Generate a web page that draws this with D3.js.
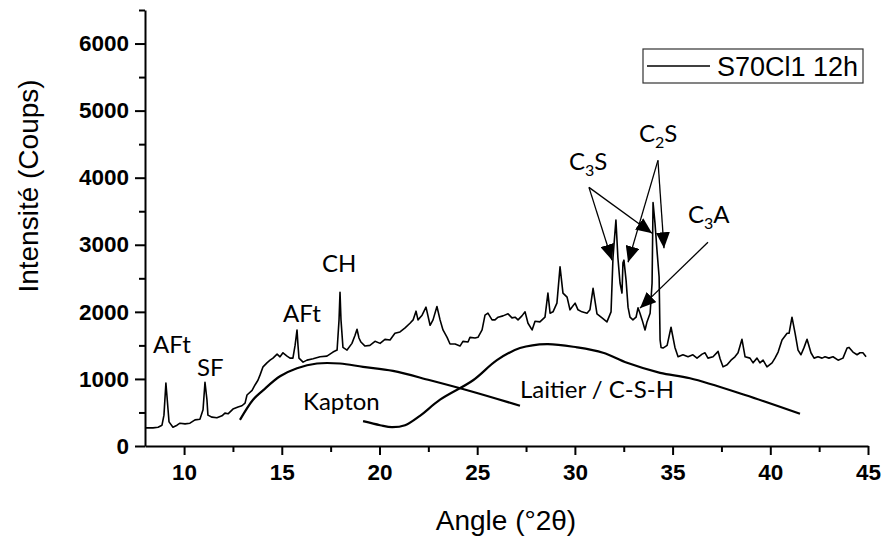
<!DOCTYPE html>
<html><head><meta charset="utf-8">
<script src="https://cdn.jsdelivr.net/npm/d3@7/dist/d3.min.js"></script>
<style>
html,body{margin:0;padding:0;background:#fff;}
svg{display:block;}
</style></head>
<body>
<svg id="chart" width="882" height="537"></svg>
<script>
// ---- data ----
const angle = [8.05,8.41,8.67,8.87,8.97,9.07,9.18,9.23,9.43,9.64,9.79,10.05,10.30,10.56,10.81,10.97,11.07,11.17,11.22,11.43,11.68,11.94,12.09,12.25,12.50,12.76,12.96,13.12,13.22,13.48,13.63,13.78,13.89,14.04,14.24,14.40,14.55,14.76,14.91,15.06,15.27,15.42,15.57,15.68,15.78,15.83,15.88,16.09,16.29,16.60,16.96,17.31,17.62,17.83,17.93,17.98,18.03,18.13,18.34,18.59,18.75,18.85,18.95,19.05,19.26,19.51,19.77,20.03,20.28,20.54,20.79,21.05,21.31,21.56,21.72,21.87,21.97,22.18,22.38,22.59,22.74,22.94,23.10,23.25,23.46,23.61,23.87,24.12,24.27,24.53,24.63,24.89,25.04,25.25,25.40,25.55,25.76,25.91,26.07,26.32,26.58,26.78,26.94,27.09,27.29,27.45,27.60,27.81,27.96,28.21,28.47,28.62,28.73,28.88,29.08,29.24,29.39,29.60,29.75,30.01,30.16,30.36,30.62,30.77,30.93,31.13,31.39,31.64,31.85,31.95,32.10,32.20,32.31,32.41,32.46,32.51,32.62,32.72,32.82,32.97,33.13,33.23,33.33,33.44,33.59,33.69,33.85,33.95,34.00,34.10,34.20,34.31,34.36,34.41,34.51,34.72,34.92,35.12,35.28,35.53,35.79,36.04,36.25,36.51,36.66,36.81,37.07,37.33,37.43,37.58,37.79,37.99,38.19,38.35,38.55,38.71,38.96,39.12,39.32,39.47,39.63,39.83,40.09,40.24,40.40,40.60,40.86,40.96,41.11,41.27,41.42,41.57,41.73,41.88,42.08,42.24,42.44,42.65,42.80,43.00,43.21,43.47,43.72,43.93,44.03,44.23,44.44,44.59,44.74,44.90];
const intensity = [270,270,280,310,460,940,540,360,280,310,340,330,340,390,400,540,950,690,460,430,420,450,490,480,550,580,600,640,760,830,910,980,1060,1180,1240,1280,1310,1370,1330,1390,1340,1310,1310,1500,1730,1500,1310,1250,1280,1300,1330,1340,1400,1430,1880,2290,1880,1470,1430,1530,1650,1740,1610,1550,1490,1500,1560,1530,1590,1580,1680,1700,1760,1830,1880,2010,1880,1950,2070,1800,1880,2080,1880,1730,1620,1520,1520,1490,1560,1550,1620,1610,1620,1730,1950,1980,1880,1880,1920,1940,1970,1910,1920,1880,1940,2000,1830,1730,1860,1850,1920,2280,1980,2000,2130,2670,2280,2220,2030,2130,2030,2000,1980,2030,2350,1970,1910,1850,2000,2810,3370,2810,2430,2280,2730,2770,2470,2070,1920,1880,1920,2060,1980,1880,1730,1850,1980,2430,3630,3320,2920,2520,1580,1470,1460,1500,1770,1470,1330,1360,1330,1360,1310,1370,1390,1310,1330,1410,1300,1180,1210,1280,1330,1390,1590,1330,1310,1240,1310,1240,1280,1180,1240,1310,1400,1580,1680,1680,1920,1680,1430,1360,1470,1590,1390,1310,1330,1310,1330,1310,1330,1280,1310,1460,1470,1400,1360,1390,1390,1330];

const kaptonAngle = [12.86,13.53,14.04,14.91,15.78,16.80,17.98,19.16,20.69,22.59,24.63,27.19];
const kaptonIntensity = [390,690,830,1040,1160,1230,1230,1180,1120,980,820,600];

const laitierAngle = [19.16,20.03,20.64,21.31,22.07,23.10,24.79,26.01,27.19,28.57,30.11,31.44,32.67,34.36,35.89,38.71,41.52];
const laitierIntensity = [370,310,280,310,450,690,980,1280,1460,1520,1470,1390,1240,1090,1010,760,480];

const xTickValues = [10,15,20,25,30,35,40,45];
const xMinorValues = [12.5,17.5,22.5,27.5,32.5,37.5,42.5];
const yTickValues = [0,1000,2000,3000,4000,5000,6000];
const yMinorValues = [500,1500,2500,3500,4500,5500,6500];

const seriesName = "S70Cl1 12h";
const xTitle = "Angle (°2θ)";
const yTitle = "Intensité (Coups)";

// labels: main text, subscript, tail, position (angle, intensity)
const labelMain = ["AFt","SF","AFt","CH","Kapton","Laitier / C-S-H","C","C","C"];
const labelSub  = ["","","","","","","3","2","3"];
const labelTail = ["","","","","","","S","S","A"];
const labelAngle = [8.41,10.66,15.06,17.06,16.09,27.19,29.70,33.28,35.79];
const labelIntensity = [1385,1042,1846,2590,536,715,4109,4526,3320];

// arrows: start -> tip
const arrowFromAngle = [30.72,30.72,34.25,34.25,36.81];
const arrowFromIntensity = [3856,3856,4258,4258,3037];
const arrowToAngle = [31.90,33.95,32.72,34.56,33.33];
const arrowToIntensity = [2769,3171,2739,2948,2055];

// ---- drawing ----
const svg = d3.select("#chart");
const x = d3.scaleLinear().domain([8,45]).range([145,868]);
const y = d3.scaleLinear().domain([0,6500]).range([446,10]);

const tickFont = "'Liberation Sans', Arial, Helvetica, sans-serif";
const annFont = "Lato, 'Open Sans', sans-serif";

// axes
const gx = svg.append("g").attr("transform","translate(0,446)")
  .call(d3.axisBottom(x).tickValues(xTickValues).tickFormat(d3.format("d")).tickSize(9).tickSizeOuter(0).tickPadding(9));
const gxm = svg.append("g").attr("transform","translate(0,446)")
  .call(d3.axisBottom(x).tickValues(xMinorValues).tickSize(6).tickFormat("").tickSizeOuter(0));
gxm.select(".domain").remove();
const gy = svg.append("g").attr("transform","translate(145,0)")
  .call(d3.axisLeft(y).tickValues(yTickValues).tickFormat(d3.format("d")).tickSize(10).tickSizeOuter(0).tickPadding(6));
const gym = svg.append("g").attr("transform","translate(145,0)")
  .call(d3.axisLeft(y).tickValues(yMinorValues).tickSize(6).tickFormat("").tickSizeOuter(0));
gym.select(".domain").remove();

svg.selectAll(".domain").attr("stroke","#000").attr("stroke-width",2);
svg.selectAll(".tick line").attr("stroke","#000").attr("stroke-width",2);
svg.selectAll(".tick text").attr("font-family",tickFont).attr("font-weight","bold")
  .attr("font-size",22.5).attr("fill","#000");

// axis titles
svg.append("text").attr("x",506).attr("y",530).attr("text-anchor","middle")
  .attr("font-family",tickFont).attr("font-size",28).text(xTitle);
svg.append("text").attr("transform","translate(38,186) rotate(-90)").attr("text-anchor","middle")
  .attr("font-family",tickFont).attr("font-size",28).text(yTitle);

// data line
const pts = angle.map((a,i)=>[a,intensity[i]]);
svg.append("path").datum(pts)
  .attr("fill","none").attr("stroke","#000").attr("stroke-width",1.6).attr("stroke-linejoin","round")
  .attr("d", d3.line().x(d=>x(d[0])).y(d=>y(d[1])));

// background humps
const curveLine = d3.line().x(d=>x(d[0])).y(d=>y(d[1])).curve(d3.curveCatmullRom.alpha(0.5));
svg.append("path").datum(kaptonAngle.map((a,i)=>[a,kaptonIntensity[i]]))
  .attr("fill","none").attr("stroke","#000").attr("stroke-width",2.2).attr("d",curveLine);
svg.append("path").datum(laitierAngle.map((a,i)=>[a,laitierIntensity[i]]))
  .attr("fill","none").attr("stroke","#000").attr("stroke-width",2.2).attr("d",curveLine);

// arrows
svg.append("defs").append("marker").attr("id","ah")
  .attr("viewBox","0 0 16 14").attr("refX",16).attr("refY",7)
  .attr("markerWidth",16).attr("markerHeight",14).attr("markerUnits","userSpaceOnUse")
  .attr("orient","auto")
  .append("path").attr("d","M0,0 L16,7 L0,14 Z").attr("fill","#000");
arrowFromAngle.forEach((a,i)=>{
  svg.append("line")
    .attr("x1",x(a)).attr("y1",y(arrowFromIntensity[i]))
    .attr("x2",x(arrowToAngle[i])).attr("y2",y(arrowToIntensity[i]))
    .attr("stroke","#000").attr("stroke-width",1.3).attr("marker-end","url(#ah)");
});

// labels
labelMain.forEach((t,i)=>{
  const tx = svg.append("text").attr("x",x(labelAngle[i])).attr("y",y(labelIntensity[i]))
    .attr("font-family",annFont).attr("font-size",24).attr("fill","#000");
  tx.append("tspan").text(t);
  if (labelSub[i]) {
    tx.append("tspan").attr("font-size",16).attr("dy",6).text(labelSub[i]);
    tx.append("tspan").attr("dy",-6).text(labelTail[i]);
  }
});

// legend
svg.append("rect").attr("x",643).attr("y",49).attr("width",220).attr("height",34)
  .attr("fill","#fff").attr("stroke","#333").attr("stroke-width",1.2);
svg.append("line").attr("x1",647).attr("x2",710).attr("y1",66).attr("y2",66)
  .attr("stroke","#000").attr("stroke-width",1.6);
svg.append("text").attr("x",717).attr("y",76).attr("font-family",tickFont).attr("font-size",27)
  .text(seriesName);
</script>
</body></html>
